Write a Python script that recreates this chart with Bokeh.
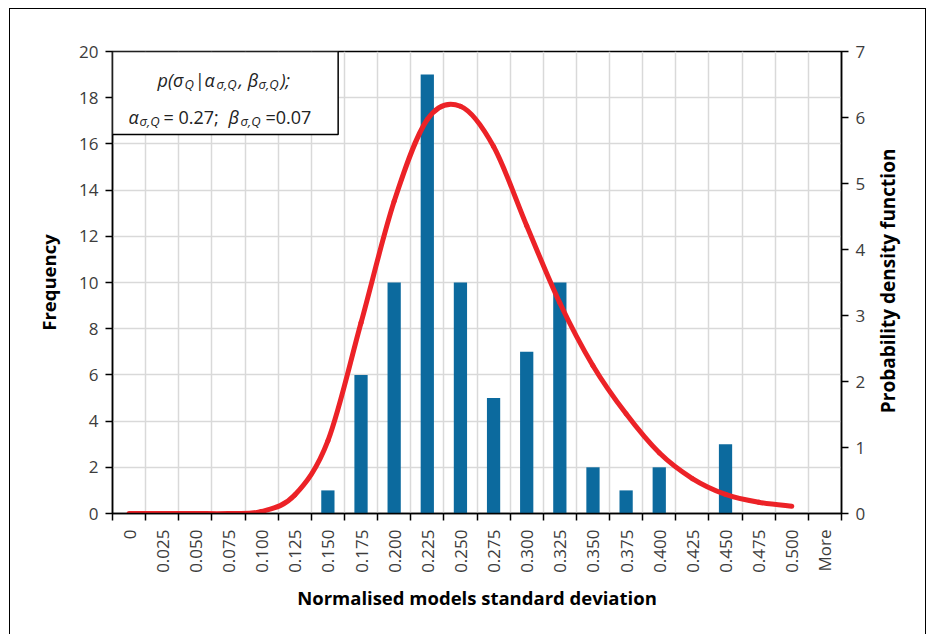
import math
from bokeh.plotting import figure
from bokeh.models import (Range1d, FactorRange, LinearAxis, CategoricalAxis, FixedTicker,
                          BoxAnnotation, Label, Grid, CustomJSTickFormatter)
from bokeh.embed import file_html
from bokeh.resources import INLINE

# ---------------- data ----------------
categories = ["0", "0.025", "0.050", "0.075", "0.100", "0.125", "0.150", "0.175",
              "0.200", "0.225", "0.250", "0.275", "0.300", "0.325", "0.350", "0.375",
              "0.400", "0.425", "0.450", "0.475", "0.500", "More"]
frequency = [0, 0, 0, 0, 0, 0, 1, 6, 10, 19, 10, 5, 7, 10, 2, 1, 2, 0, 3, 0, 0, 0]
pdf_categories = categories[:21]
pdf_values = [0, 0, 0, 0, 0.03, 0.28, 1.1, 2.89, 4.73, 5.97, 6.17, 5.56, 4.36, 3.19,
              2.24, 1.51, 0.92, 0.53, 0.29, 0.17, 0.11]
left_ticks = list(range(0, 21, 2))
right_ticks = list(range(0, 8))
right_title = "Probability density function"

BAR = "#0c6a9e"
RED = "#ec2227"
FONT = "Open Sans"
TICK_COL = "#3c3c3c"
TITLE_SIZE = "18.5px"

p = figure(width=917, height=626, x_range=FactorRange(*categories), y_range=Range1d(0, 20),
           output_backend="svg", toolbar_location=None,
           x_axis_location=None, y_axis_location=None,
           min_border_left=102, min_border_right=86, min_border_top=42, min_border_bottom=122)
p.styles = {"margin-left": "9px", "margin-top": "8px",
            "border-left": "1.5px solid black", "border-top": "1.5px solid black",
            "border-right": "1.5px solid black"}
p.extra_y_ranges = {"pdf": Range1d(0, 7)}
p.background_fill_color = "white"
p.border_fill_color = "white"
p.outline_line_color = "black"
p.outline_line_width = 1.5

# grids
p.center = []
vgrid = Grid(dimension=0, ticker=FixedTicker(ticks=list(range(1, 22))),
             grid_line_color="#d9d9d9", grid_line_width=1.5)
hgrid = Grid(dimension=1, ticker=FixedTicker(ticks=left_ticks),
             grid_line_color="#d9d9d9", grid_line_width=1.5)
p.add_layout(vgrid)
p.add_layout(hgrid)

# x axis: tick marks at category boundaries (no labels)
xticks_axis = LinearAxis(ticker=FixedTicker(ticks=list(range(0, 23))),
                         formatter=CustomJSTickFormatter(code="return ''"))
xticks_axis.major_label_orientation = math.pi / 2
xticks_axis.major_label_standoff = 0
xticks_axis.major_tick_in = 0
xticks_axis.major_tick_out = 7
xticks_axis.major_tick_line_width = 1.5
xticks_axis.axis_line_width = 1.5
xticks_axis.minor_tick_line_color = None
p.add_layout(xticks_axis, "below")

# x axis: labels at category centres
xlab_axis = CategoricalAxis()
xlab_axis.major_tick_line_color = None
xlab_axis.major_tick_out = 0
xlab_axis.major_tick_in = 0
xlab_axis.axis_line_color = None
xlab_axis.major_label_orientation = math.pi / 2
xlab_axis.major_label_standoff = 9
xlab_axis.major_label_text_font = FONT
xlab_axis.major_label_text_font_size = "17px"
xlab_axis.major_label_text_color = TICK_COL
xlab_axis.axis_label = "Normalised models standard deviation"
xlab_axis.axis_label_text_font = FONT
xlab_axis.axis_label_text_font_style = "bold"
xlab_axis.axis_label_text_font_size = TITLE_SIZE
xlab_axis.axis_label_text_color = "black"
xlab_axis.axis_label_standoff = 9
p.add_layout(xlab_axis, "below")

# left axis
yl = LinearAxis(ticker=FixedTicker(ticks=left_ticks))
yl.axis_label = "Frequency"
yl.axis_label_text_font = FONT
yl.axis_label_text_font_style = "bold"
yl.axis_label_text_font_size = TITLE_SIZE
yl.axis_label_text_color = "black"
yl.axis_label_standoff = 15
p.add_layout(yl, "left")
# right axis
yr = LinearAxis(y_range_name="pdf", ticker=FixedTicker(ticks=right_ticks))
p.add_layout(yr, "right")
for ax in (yl, yr):
    ax.major_tick_in = 0
    ax.major_tick_out = 7
    ax.major_tick_line_width = 1.5
    ax.axis_line_width = 1.5
    ax.minor_tick_line_color = None
    ax.major_label_standoff = 7
    ax.major_label_text_font = FONT
    ax.major_label_text_font_size = "17px"
    ax.major_label_text_color = TICK_COL

# right-hand title: an extra right axis whose single label reads upward,
# anchored so the text is centred on the plot height
yr_title = LinearAxis(y_range_name="pdf", ticker=FixedTicker(ticks=[1.52]),
                      formatter=CustomJSTickFormatter(code=f"return '{right_title}'"))
yr_title.axis_line_color = None
yr_title.major_tick_line_color = None
yr_title.major_tick_out = 0
yr_title.major_tick_in = 0
yr_title.minor_tick_line_color = None
yr_title.major_label_orientation = math.pi / 2
yr_title.major_label_standoff = 20
yr_title.major_label_text_font = FONT
yr_title.major_label_text_font_style = "bold"
yr_title.major_label_text_font_size = "19px"
yr_title.major_label_text_color = "black"
p.add_layout(yr_title, "right")

# bars
p.vbar(x=categories, top=frequency, width=0.4, fill_color=BAR, line_color=None)

# smoothed pdf curve (Bezier segments through the read points)
xs = [categories.index(c) + 0.5 for c in pdf_categories]
n = len(xs)
x0, y0, x1, y1, cx0, cy0, cx1, cy1 = [], [], [], [], [], [], [], []
for i in range(n - 1):
    im = max(i - 1, 0)
    ip = min(i + 2, n - 1)
    x0.append(xs[i]); y0.append(pdf_values[i])
    x1.append(xs[i + 1]); y1.append(pdf_values[i + 1])
    cx0.append(xs[i] + (xs[i + 1] - xs[im]) / 6.0)
    cy0.append(pdf_values[i] + (pdf_values[i + 1] - pdf_values[im]) / 6.0)
    cx1.append(xs[i + 1] - (xs[ip] - xs[i]) / 6.0)
    cy1.append(pdf_values[i + 1] - (pdf_values[ip] - pdf_values[i]) / 6.0)
p.bezier(x0=x0, y0=y0, x1=x1, y1=y1, cx0=cx0, cy0=cy0, cx1=cx1, cy1=cy1,
         line_color=RED, line_width=5, line_cap="round", y_range_name="pdf")

# formula box
box = BoxAnnotation(left=0, right=6.81, top=20, bottom=16.41,
                    fill_color="white", fill_alpha=1.0,
                    line_color="black", line_width=1.5, line_alpha=1.0)
p.add_layout(box)

FRAME_L, FRAME_T = 111, 50
pieces = [
    (156, 78, "p(σ", 18, "italic"),
    (183, 82, "Q", 13, "italic"),
    (193, 78, "|α", 18, "italic"),
    (215, 82, "σ,Q", 13, "italic"),
    (237, 78, ", β", 18, "italic"),
    (257, 82, "σ,Q", 13, "italic"),
    (279, 78, ");", 18, "italic"),
    (127, 115, "α", 18, "italic"),
    (138, 119, "σ,Q", 13, "italic"),
    (162, 115, "= 0.27;", 18, "normal"),
    (227, 115, "β", 18, "italic"),
    (239, 119, "σ,Q", 13, "italic"),
    (264, 115, "=0.07", 18, "normal"),
]
for px, py, txt, sz, st in pieces:
    p.add_layout(Label(x=0, y=20, x_offset=px - FRAME_L, y_offset=-(py - FRAME_T),
                       text=txt, text_font=FONT, text_font_size=f"{sz}px",
                       text_font_style=st, text_color="#222222",
                       text_align="left", text_baseline="alphabetic"))

open("out.html", "w").write(file_html(p, INLINE))
